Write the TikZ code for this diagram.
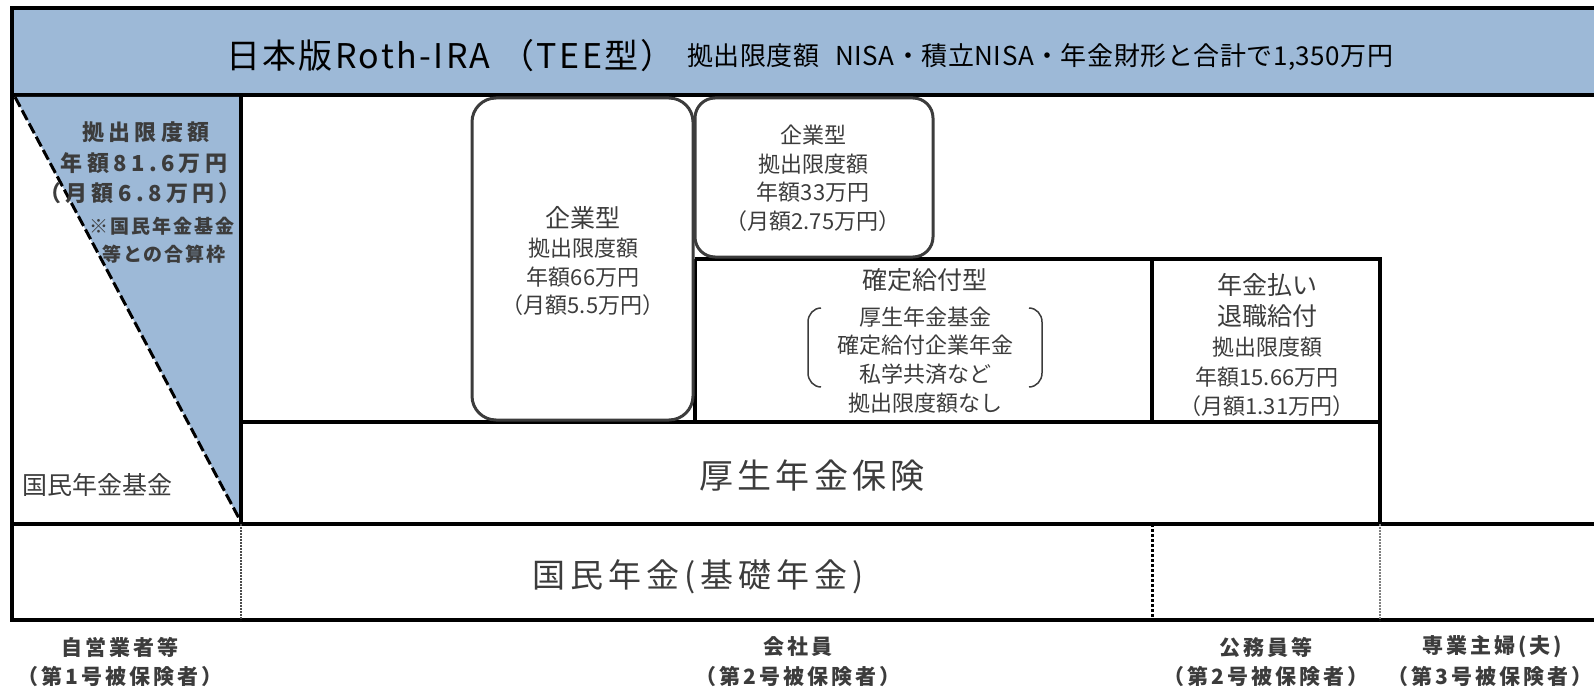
\documentclass[tikz,border=0pt]{standalone}
\usepackage{fontspec}
\setmainfont{Noto Sans CJK JP}
\definecolor{bandblue}{RGB}{157,185,215}
\definecolor{ink}{RGB}{60,60,60}
\begin{document}
\begin{tikzpicture}[x=1pt,y=-1pt,
  heavy/.style={line width=4pt},
  midline/.style={line width=3.5pt},
  rbox/.style={draw=ink, line width=3pt},
  txt/.style={text=ink, inner sep=0pt, align=center, font=\fontsize{22}{22}\selectfont},
  big/.style={text=ink, inner sep=0pt, align=center, font=\fontsize{25}{25}\selectfont},
  bold/.style={text=ink, inner sep=0pt, align=center, font=\fontsize{21}{21}\selectfont\bfseries\addfontfeature{LetterSpace=14}},
  boldbig/.style={text=ink, inner sep=0pt, align=center, font=\fontsize{22}{22}\selectfont\bfseries\addfontfeature{LetterSpace=20}},
  boldsmall/.style={text=ink, inner sep=0pt, align=center, font=\fontsize{19}{19}\selectfont\bfseries\addfontfeature{LetterSpace=10}},
]
\useasboundingbox (0,0) rectangle (1594,690);
\clip (0,0) rectangle (1594,690);
% top band
\fill[bandblue] (12,8) rectangle (1620,95);
\draw[heavy] (1620,8) -- (12,8) -- (12,95) -- (1620,95);
\node[anchor=west, inner sep=0pt, font=\fontsize{34}{34}\selectfont\addfontfeature{LetterSpace=7}] (title) at (226,56) {日本版Roth-IRA （TEE型）};
\node[anchor=west, inner sep=0pt, font=\fontsize{26}{26}\selectfont\addfontfeature{LetterSpace=2}] (limit) at (687,57) {拠出限度額\hspace{16pt}NISA・積立NISA・年金財形と合計で1,350万円};
% left triangle
\fill[bandblue] (15,97) -- (241,97) -- (241,522) -- cycle;
\draw[line width=3pt, dash pattern=on 11pt off 4pt] (15,97) -- (241,522);
% frame lines
\draw[heavy] (12,95) -- (12,622);
\draw[heavy] (241,95) -- (241,524);
\draw[heavy] (12,524) -- (1620,524);
\draw[heavy] (12,620) -- (1620,620);
\draw[midline] (241,422) -- (1380,422);
\draw[midline] (695,259) -- (1380,259) -- (1380,524);
\draw[midline] (695,259) -- (695,422);
\draw[midline] (1152,259) -- (1152,422);
% bottom row dividers
\draw[line width=2pt, black!70, dash pattern=on 2pt off 1pt] (241,524) -- (241,620);
\draw[line width=3pt, dash pattern=on 3pt off 2pt] (1152,524) -- (1152,620);
\draw[line width=1.3pt, black!50, dash pattern=on 2pt off 1pt] (1380,524) -- (1380,620);
% rounded boxes
\draw[rbox, rounded corners=24pt] (472,98) rectangle (693,420);
\draw[rbox, rounded corners=20pt] (695,98) rectangle (933,257);
% left column text
\node[boldbig] (l1) at (146,132) {拠出限度額};
\node[boldbig] (l2) at (144,163) {年額81.6万円};
\node[boldbig] (l3) at (140,193) {（月額6.8万円）};
\node[boldsmall] (l4) at (162,226) {※国民年金基金};
\node[boldsmall] (l5) at (164,254) {等との合算枠};
\node[anchor=west, text=ink, inner sep=0pt, font=\fontsize{25}{25}\selectfont] (kikin) at (22,485) {国民年金基金};
% box 1
\node[big] (b1a) at (583,218) {企業型};
\node[txt] (b1b) at (583,248) {拠出限度額};
\node[txt] (b1c) at (583,277) {年額66万円};
\node[txt] (b1d) at (583,305) {（月額5.5万円）};
% box 2
\node[txt] (b2a) at (813,135) {企業型};
\node[txt] (b2b) at (813,164) {拠出限度額};
\node[txt] (b2c) at (813,192) {年額33万円};
\node[txt] (b2d) at (813,221) {（月額2.75万円）};
% DB box
\node[big] (dba) at (925,280) {確定給付型};
\node[txt] (dbb) at (925,317) {厚生年金基金};
\node[txt] (dbc) at (925,345) {確定給付企業年金};
\node[txt] (dbd) at (925,374) {私学共済など};
\node[txt] (dbe) at (925,403) {拠出限度額なし};
\draw[ink, line width=1.5pt] (821,308) to[out=180,in=90] (808,322) -- (808,373) to[out=-90,in=180] (821,387);
\draw[ink, line width=1.5pt] (1029,308) to[out=0,in=90] (1042,322) -- (1042,373) to[out=-90,in=0] (1029,387);
% annuity box
\node[big] (ana) at (1267,285) {年金払い};
\node[big] (anb) at (1267,316) {退職給付};
\node[txt] (anc) at (1267,347) {拠出限度額};
\node[txt] (and) at (1267,377) {年額15.66万円};
\node[txt] (ane) at (1267,406) {（月額1.31万円）};
% large rows
\node[text=ink, inner sep=0pt, font=\fontsize{34}{34}\selectfont\addfontfeature{LetterSpace=12}] (kosei) at (812,476) {厚生年金保険};
\node[text=ink, inner sep=0pt, font=\fontsize{33}{33}\selectfont\addfontfeature{LetterSpace=15}] (kokumin) at (698,577) {国民年金(基礎年金)};
% bottom labels
\node[bold] (c1a) at (120,647) {自営業者等};
\node[bold] (c1b) at (120,676) {（第1号被保険者）};
\node[bold] (c2a) at (798,647) {会社員};
\node[bold] (c2b) at (798,676) {（第2号被保険者）};
\node[bold] (c3a) at (1266,647) {公務員等};
\node[bold] (c3b) at (1266,676) {（第2号被保険者）};
\node[bold] (c4a) at (1492,647) {専業主婦(夫)};
\node[bold] (c4b) at (1490,676) {（第3号被保険者）};
\end{tikzpicture}
\end{document}
